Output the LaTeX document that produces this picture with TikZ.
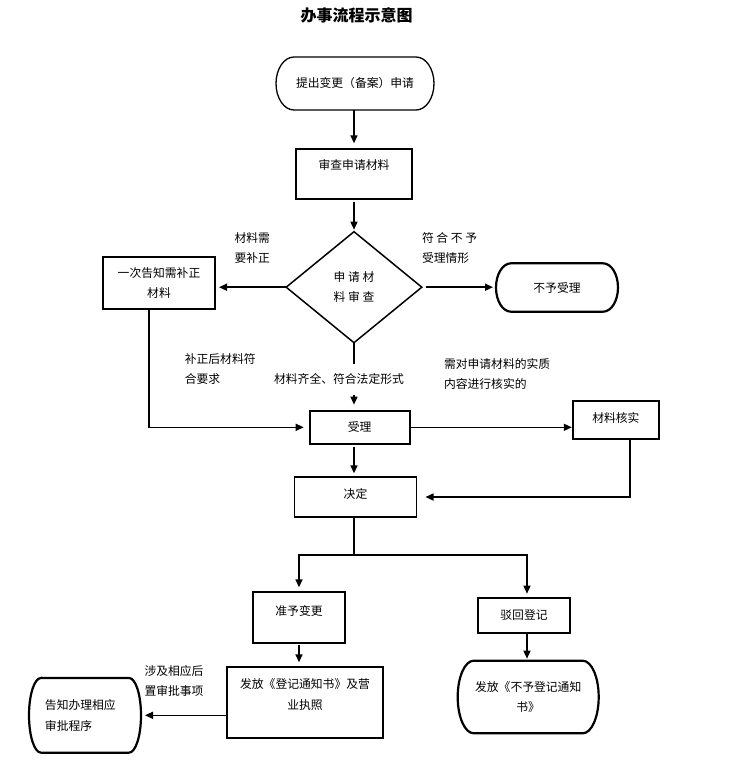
\documentclass[tikz,border=0pt]{standalone}
\usepackage{fontspec}
\setmainfont{Noto Sans CJK SC}
\usetikzlibrary{shapes.geometric,arrows.meta}

\tikzset{
  box/.style={draw,line width=1.8pt,inner sep=2pt,align=center},
  txt/.style={inner sep=0pt,anchor=west,align=left},
  flow/.style={line width=1.5pt},
  termline/.style={line width=2.2pt},
  thinterm/.style={line width=1.3pt}
}
% outline with elliptic ends round a named node
\newcommand{\termshape}[4][termline]{%
  \draw[#1] ([xshift=#3]#2.north west) -- ([xshift=-#3]#2.north east)
    arc[start angle=90,end angle=-90,x radius=#3,y radius=#4]
    -- ([xshift=#3]#2.south west)
    arc[start angle=270,end angle=90,x radius=#3,y radius=#4] -- cycle;}

\begin{document}
\begin{tikzpicture}[x=1pt,y=-1pt,>={Triangle[length=8pt,width=7pt]},shorten >=4pt,
  every node/.style={font=\fontsize{11.8pt}{20.5pt}\selectfont,outer sep=0pt}]
\useasboundingbox (0,0) rectangle (730,764);

\node[font=\fontsize{16pt}{18pt}\selectfont\bfseries] (title) at (356.5,15) {办事流程示意图};

% main column
\node[minimum width=158pt,minimum height=53pt] (start) at (355,83.5) {提出变更（备案）申请};
\node[box,minimum width=116.6pt,minimum height=50pt,text depth=20pt] (check) at (354,174.3) {审查申请材料};
\node[draw,diamond,line width=1.5pt,minimum width=135.6pt,minimum height=111pt,inner sep=0pt,align=center] (review) at (354,287.2) {申 请 材\\料 审 查};
\node[box,minimum width=112pt,minimum height=52.3pt] (notify) at (159,282.8) {一次告知需补正\\材料};
\node[minimum width=122pt,minimum height=48.4pt] (reject) at (557,287.5) {不予受理};
\node[box,minimum width=100pt,minimum height=33.3pt] (accept) at (359.7,427.3) {受理};
\node[box,minimum width=86.2pt,minimum height=38pt,text depth=4.8pt] (verify) at (615.9,420) {材料核实};
\node[box,minimum width=122pt,minimum height=39.4pt,text depth=7.4pt] (decide) at (355.5,497) {决定};

% outcomes
\node[box,minimum width=92.6pt,minimum height=50.4pt,text depth=15pt] (grant) at (299,617.5) {准予变更};
\node[box,minimum width=92pt,minimum height=35.6pt] (deny) at (524,615.5) {驳回登记};
\node[box,minimum width=156pt,minimum height=71pt,text depth=18pt] (issue) at (305,702.8) {发放《登记通知书》及营\\业执照};
\node[minimum width=141pt,minimum height=72.6pt,align=center] (refuse) at (528.2,697) {发放《不予登记通知\\书》};
\node[minimum width=112pt,minimum height=74.7pt,text width=80pt,align=left] (inform) at (85,715.3) {告知办理相应\\审批程序};

\termshape[thinterm]{start}{18pt}{26.5pt}
\termshape{reject}{15pt}{24.2pt}
\termshape{refuse}{16pt}{36.3pt}
\termshape{inform}{12pt}{37.35pt}

% labels
\node[txt] (needfix) at (234.6,247.8) {材料需\\要补正};
\node[txt] (refcase) at (422,247.8) {符 合 不 予\\受理情形};
\node[txt] (fixed) at (184.8,368.8) {补正后材料符\\合要求};
\node[txt] (probe) at (444,374.2) {需对申请材料的实质\\内容进行核实的};
\node[inner xsep=0pt,inner ysep=10pt] (complete) at (339,379.3) {材料齐全、符合法定形式};
\node[txt] (related) at (144.5,681.2) {涉及相应后\\置审批事项};

% connectors
\draw[flow,->,shorten >=6pt] (start.south -| check.north) -- (check.north);
\draw[flow,->,shorten <=3pt,shorten >=2pt] (check) -- (review);
\draw[flow,->] (review.west) -- (review.west -| notify.east);
\draw[flow,->,shorten <=4pt,shorten >=3pt] (review.east) -- (review.east -| reject.west);
\draw[flow,shorten >=0pt] (review.south) -- (review.south |- complete.north);
\draw[flow,->,shorten >=6pt] (review.south |- complete.south) -- (review.south |- accept.north);
\draw[flow,->,shorten >=6pt] ([xshift=-10pt]notify.south) |- (accept.west);
\draw[flow,->,shorten >=1pt] (accept.east) -- (accept.east -| verify.west);
\draw[flow,->,shorten >=9pt] ([xshift=14pt]verify.south) |- (decide.east);
\draw[flow,->,shorten <=3pt] (accept.south -| review.south) -- (decide.north -| review.south);
\coordinate (split) at (354,555);
\draw[flow,shorten >=0pt] (decide.south -| split) -- (split);
\draw[flow,->,shorten >=5pt] (split) -| (grant.north);
\draw[flow,->] (split) -| ([xshift=3pt]deny.north);
\draw[flow,->,shorten <=2pt,shorten >=5pt] (grant.south) -- (grant.south |- issue.north);
\draw[flow,->,shorten >=2pt] ([xshift=3pt]deny.south) -- ([xshift=3pt]deny.south |- refuse.north);
\draw[flow,->] (issue.west |- inform.east) -- (inform.east);
\end{tikzpicture}
\end{document}
